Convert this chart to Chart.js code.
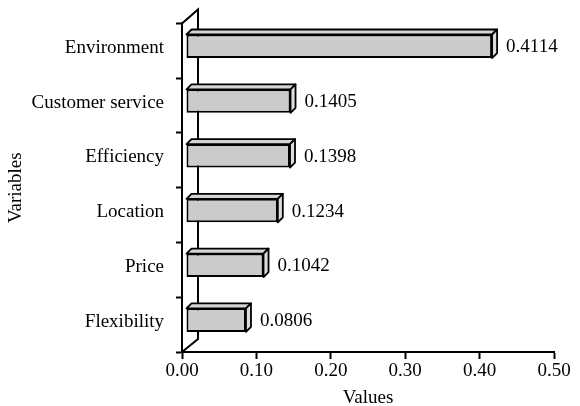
<!DOCTYPE html>
<html>
<head>
<meta charset="utf-8">
<script src="https://cdn.jsdelivr.net/npm/chart.js@4"></script>
<style>
  html, body { margin: 0; padding: 0; background: #fff; }
  #wrap { width: 580px; height: 406px; }
</style>
</head>
<body>
<div id="wrap"><canvas id="barChart"></canvas></div>
<script>
// data
const variables = ["Environment", "Customer service", "Efficiency", "Location", "Price", "Flexibility"];
const weights = [0.4114, 0.1405, 0.1398, 0.1234, 0.1042, 0.0806];
const xTicks = [0, 0.1, 0.2, 0.3, 0.4, 0.5];

const FONT = "'Liberation Serif', 'Times New Roman', serif";
const SHIFT = { x: 4, y: -4.5 };   // bars sit a little inside the 3D box
const DEPTH = { x: 5, y: -5 };     // depth of each bar
const WALL = { x: 16, y: -14 };    // back wall offset

// draws the back wall, the bar sides and the value labels
const box3d = {
    id: "box3d",
    beforeDatasetsDraw(chart) {
        const ctx = chart.ctx;
        const a = chart.chartArea;
        ctx.save();
        ctx.strokeStyle = "#000";
        ctx.lineWidth = 2;
        ctx.beginPath();
        ctx.moveTo(a.left, a.top);
        ctx.lineTo(a.left + WALL.x, a.top + WALL.y);
        ctx.lineTo(a.left + WALL.x, a.bottom - 13);
        ctx.lineTo(a.left, a.bottom);
        ctx.stroke();
        ctx.restore();

        ctx.save();
        ctx.translate(SHIFT.x, SHIFT.y);
    },
    afterDatasetsDraw(chart) {
        const ctx = chart.ctx;
        const meta = chart.getDatasetMeta(0);
        ctx.lineWidth = 1.8;
        ctx.strokeStyle = "#000";
        ctx.lineJoin = "round";
        meta.data.forEach(function (bar, i) {
            const left = bar.base;
            const right = bar.x;
            const top = bar.y - bar.height / 2;
            const bottom = bar.y + bar.height / 2;

            // top face
            ctx.fillStyle = "#d4d4d4";
            ctx.beginPath();
            ctx.moveTo(left, top);
            ctx.lineTo(left + DEPTH.x, top + DEPTH.y);
            ctx.lineTo(right + DEPTH.x, top + DEPTH.y);
            ctx.lineTo(right, top);
            ctx.closePath();
            ctx.fill();
            ctx.stroke();

            // side face
            ctx.fillStyle = "#dcdcdc";
            ctx.beginPath();
            ctx.moveTo(right, top);
            ctx.lineTo(right + DEPTH.x, top + DEPTH.y);
            ctx.lineTo(right + DEPTH.x, bottom + DEPTH.y);
            ctx.lineTo(right, bottom);
            ctx.closePath();
            ctx.fill();
            ctx.stroke();

            // value label
            ctx.fillStyle = "#000";
            ctx.font = "19px " + FONT;
            ctx.textAlign = "left";
            ctx.textBaseline = "middle";
            ctx.fillText(weights[i].toFixed(4), right + 14, bar.y + 1);
        });
        ctx.restore();
    }
};

const ctx = document.getElementById("barChart").getContext("2d");
new Chart(ctx, {
    type: "bar",
    data: {
        labels: variables,
        datasets: [{
            label: "Values",
            data: weights,
            backgroundColor: "#cbcbcb",
            borderColor: "#000",
            borderWidth: 2,
            borderSkipped: false,
            categoryPercentage: 1.0,
            barPercentage: 0.43
        }]
    },
    options: {
        indexAxis: "y",
        responsive: true,
        maintainAspectRatio: false,
        animation: false,
        layout: { padding: { top: 23, right: 26, left: 0, bottom: 0 } },
        plugins: {
            legend: { display: false },
            tooltip: { enabled: false }
        },
        scales: {
            x: {
                min: 0,
                max: 0.5,
                afterFit: function (scale) { scale.height = 54; },
                afterBuildTicks: function (scale) {
                    scale.ticks = xTicks.map(v => ({ value: v }));
                },
                border: { display: true, color: "#000", width: 2 },
                grid: {
                    drawOnChartArea: false,
                    drawTicks: true,
                    tickLength: 7,
                    tickWidth: 2,
                    color: "#000"
                },
                ticks: {
                    color: "#000",
                    font: { family: FONT, size: 19 },
                    padding: 1,
                    callback: v => v.toFixed(2)
                },
                title: {
                    display: true,
                    text: "Values",
                    color: "#000",
                    font: { family: FONT, size: 19 },
                    padding: { top: 0, bottom: -3 }
                }
            },
            y: {
                afterFit: function (scale) { scale.width = 182; },
                border: { display: true, color: "#000", width: 2 },
                grid: {
                    offset: true,
                    drawOnChartArea: false,
                    drawTicks: true,
                    tickLength: 6,
                    tickWidth: 2,
                    color: "#000"
                },
                ticks: {
                    color: "#000",
                    font: { family: FONT, size: 19 },
                    padding: 12,
                    labelOffset: -3
                },
                title: {
                    display: true,
                    text: "Variables",
                    color: "#000",
                    font: { family: FONT, size: 19 },
                    padding: { top: 5, bottom: 0 }
                }
            }
        }
    },
    plugins: [box3d]
});
</script>
</body>
</html>
